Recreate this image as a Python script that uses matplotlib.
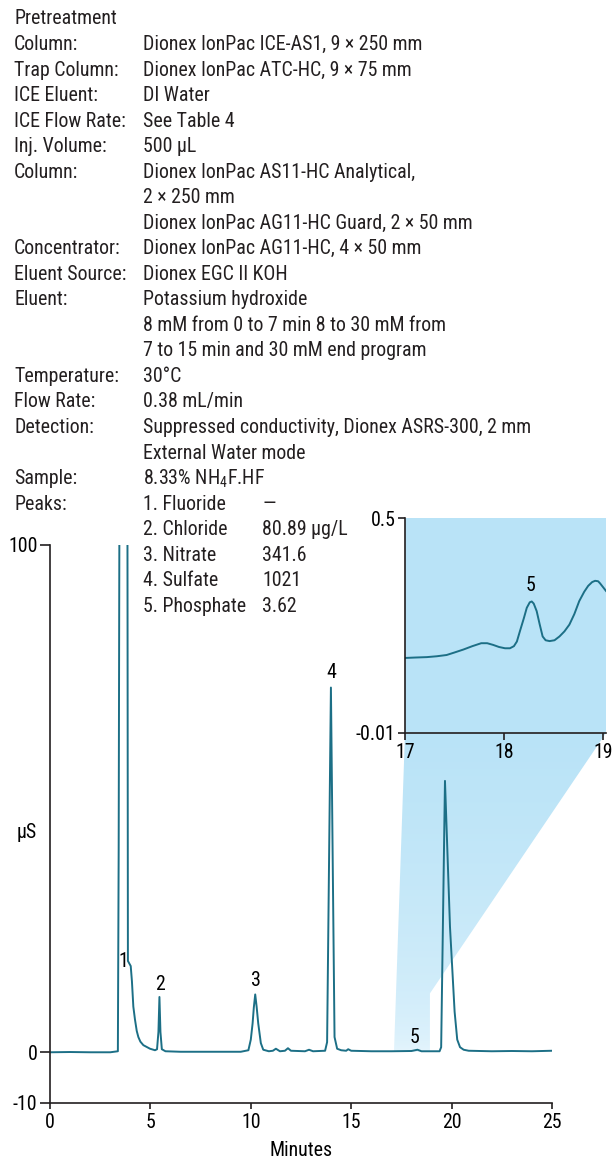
import matplotlib
matplotlib.use("Agg")
from matplotlib import pyplot as plt
from matplotlib import font_manager
from matplotlib.patches import Polygon
from matplotlib.colors import to_rgb
import numpy as np


def pick_font(names):
    for name in names:
        try:
            font_manager.findfont(name, fallback_to_default=False)
            return name
        except Exception:
            pass
    return "DejaVu Sans"


FONT = pick_font(["Liberation Sans Narrow", "Roboto Condensed", "Liberation Sans"])
plt.rcParams["font.family"] = [FONT, "DejaVu Sans"]
plt.rcParams["mathtext.fontset"] = "custom"
plt.rcParams["mathtext.rm"] = FONT
plt.rcParams["axes.unicode_minus"] = False

# chromatogram, minutes vs uS
time = [0, 1.0, 2.0, 3.0, 3.38, 3.42, 3.47, 3.85, 3.88, 4.02, 4.08, 4.15, 4.23, 4.32, 4.40,
        4.50, 4.65, 4.98, 5.23, 5.33, 5.40, 5.45, 5.50, 5.57, 5.75, 6.5, 8.0, 9.5, 9.88,
        10.0, 10.09, 10.15, 10.22, 10.29, 10.37, 10.5, 10.62, 10.9, 11.1, 11.25, 11.45, 11.7,
        11.85, 12.0, 12.7, 12.9, 13.1, 13.7, 13.8, 13.99, 14.17, 14.3, 14.5, 14.75, 14.85,
        15.0, 16.0, 17.0, 18.0, 18.3, 18.5, 19.0, 19.4, 19.48, 19.67, 19.92, 20.15, 20.28,
        20.42, 20.6, 20.85, 22.0, 23.0, 24.0, 25.0]
signal = [0.0, 0.05, 0.0, 0.0, 0.2, 40, 130, 130, 18, 17, 14, 9, 6.5, 4.2, 3.0,
          2.1, 1.4, 0.7, 0.4, 0.6, 4.0, 10.9, 4.0, 0.6, 0.2, 0.1, 0.1, 0.1, 0.4,
          2.5, 5.7, 8.8, 11.4, 9.0, 5.7, 1.8, 0.5, 0.2, 0.3, 0.7, 0.2, 0.3,
          0.8, 0.3, 0.2, 0.5, 0.2, 0.3, 2.0, 71.9, 3.0, 0.7, 0.4, 0.3, 0.6,
          0.3, 0.2, 0.2, 0.25, 0.5, 0.2, 0.2, 0.2, 1.0, 53.5, 24.7, 8.0, 2.5,
          1.0, 0.5, 0.3, 0.2, 0.25, 0.2, 0.3]

# zoomed section 17-19 min
zoom_time = [17.0, 17.1, 17.22, 17.32, 17.42, 17.5, 17.59, 17.68, 17.77, 17.83, 17.89, 17.95,
             18.01, 18.06, 18.1, 18.13, 18.16, 18.2, 18.23, 18.26, 18.28, 18.3, 18.33, 18.36,
             18.39, 18.42, 18.46, 18.51, 18.56, 18.61, 18.66, 18.71, 18.76, 18.81, 18.85,
             18.89, 18.92, 18.95, 18.97, 19.0, 19.03]
zoom_signal = [0.168, 0.169, 0.170, 0.172, 0.175, 0.181, 0.188, 0.196, 0.203, 0.203, 0.199, 0.194,
               0.191, 0.191, 0.196, 0.207, 0.231, 0.262, 0.287, 0.300, 0.302, 0.297, 0.279, 0.248,
               0.219, 0.210, 0.208, 0.210, 0.219, 0.231, 0.247, 0.272, 0.303, 0.325, 0.339,
               0.348, 0.351, 0.350, 0.345, 0.336, 0.327]

peak_labels = ["1", "2", "3", "4", "5"]
peak_label_x = [3.64, 5.48, 10.26, 13.99, 18.13]
peak_label_y = [17.8, 13.4, 14.2, 74.8, 2.9]

info_rows = [
    ("Pretreatment", "", ""),
    ("Column:", "Dionex IonPac ICE-AS1, 9 × 250 mm", ""),
    ("Trap Column:", "Dionex IonPac ATC-HC, 9 × 75 mm", ""),
    ("ICE Eluent:", "DI Water", ""),
    ("ICE Flow Rate:", "See Table 4", ""),
    ("Inj. Volume:", "500 µL", ""),
    ("Column:", "Dionex IonPac AS11-HC Analytical,", ""),
    ("", "2 × 250 mm", ""),
    ("", "Dionex IonPac AG11-HC Guard, 2 × 50 mm", ""),
    ("Concentrator:", "Dionex IonPac AG11-HC, 4 × 50 mm", ""),
    ("Eluent Source:", "Dionex EGC II KOH", ""),
    ("Eluent:", "Potassium hydroxide", ""),
    ("", "8 mM from 0 to 7 min 8 to 30 mM from", ""),
    ("", "7 to 15 min and 30 mM end program", ""),
    ("Temperature:", "30°C", ""),
    ("Flow Rate:", "0.38 mL/min", ""),
    ("Detection:", "Suppressed conductivity, Dionex ASRS-300, 2 mm", ""),
    ("", "External Water mode", ""),
    ("Sample:", "8.33% NH$_\\mathregular{4}$F.HF", ""),
    ("Peaks:", "1. Fluoride", "—"),
    ("", "2. Chloride", "80.89 µg/L"),
    ("", "3. Nitrate", "341.6"),
    ("", "4. Sulfate", "1021"),
    ("", "5. Phosphate", "3.62"),
]

W, H = 614, 1163
line_color = "#1c6f86"
ink = "#231f20"
sky = "#b9e3f7"
fs = 14.3

fig = plt.figure(figsize=(W / 100, H / 100), dpi=100)

bg = fig.add_axes([0, 0, 1, 1], zorder=0)
bg.set_xlim(0, W)
bg.set_ylim(0, H)
bg.axis("off")

ax = fig.add_axes([50 / W, 60 / H, 502 / W, 558 / H], zorder=1)
ax.patch.set_alpha(0)
ax.plot(time, signal, color=line_color, lw=1.4)
ax.set_xlim(0, 25)
ax.set_ylim(-10, 100)
ax.set_xticks([0, 5, 10, 15, 20, 25])
ax.set_yticks([-10, 0, 100])
for s in ["top", "right"]:
    ax.spines[s].set_visible(False)
for s in ["left", "bottom"]:
    ax.spines[s].set_color(ink)
    ax.spines[s].set_linewidth(1.2)
ax.tick_params(axis="y", length=7, width=1.2, color=ink, labelsize=fs, pad=2)
ax.tick_params(axis="x", length=4, width=1.2, color=ink, labelsize=fs, pad=3)
ax.set_xlabel("Minutes", fontsize=fs, labelpad=7)
ax.set_ylabel("µS", fontsize=fs, rotation=0, va="center", ha="center")
ax.yaxis.set_label_coords(-0.046, 0.484)
for lab, x, y in zip(peak_labels, peak_label_x, peak_label_y):
    ax.text(x, y, lab, fontsize=fs, ha="center", va="center")

ins = fig.add_axes([405 / W, 430 / H, 201 / W, 215 / H], zorder=2)
ins.set_facecolor(sky)
ins.plot(zoom_time, zoom_signal, color=line_color, lw=1.4)
ins.set_xlim(17, 19.03)
ins.set_ylim(-0.01, 0.5)
ins.set_xticks([17, 18, 19])
ins.set_yticks([-0.01, 0.5])
ins.set_yticklabels(["-0.01", "0.5"])
for s in ["top", "right"]:
    ins.spines[s].set_visible(False)
for s in ["left", "bottom"]:
    ins.spines[s].set_color(ink)
    ins.spines[s].set_linewidth(1.2)
ins.tick_params(length=5, width=1.2, color=ink, labelsize=fs, pad=2)
ins.text(18.27, 0.339, "5", fontsize=fs, ha="center", va="center")

# shaded wedge linking the zoom window to the inset
to_bg = bg.transData.inverted()
pts = [ax.transData.transform((17.13, 0)),
       ins.transAxes.transform((0, 0)),
       ins.transAxes.transform((1, 0)),
       ax.transData.transform((18.92, 11.6)),
       ax.transData.transform((18.92, 0))]
pts = to_bg.transform(np.array(pts))
wedge = Polygon(pts, closed=True, facecolor="none", edgecolor="none")
bg.add_patch(wedge)
top_c = np.array(to_rgb(sky))
bot_c = np.array(to_rgb("#e8f6fd"))
frac = np.linspace(0, 1, 256)[:, None] ** 0.45
grad = (bot_c * (1 - frac) + top_c * frac)[:, None, :]
img = bg.imshow(grad, extent=[pts[:, 0].min(), pts[:, 0].max(), pts[:, 1].min(), pts[:, 1].max()],
                origin="lower", aspect="auto", interpolation="bilinear")
img.set_clip_path(wedge)

# method text block
row_h = 25.53
for i, (label, value, conc) in enumerate(info_rows):
    y = 1 - (19 + i * row_h) / H
    if label:
        fig.text(14 / W, y, label, fontsize=fs, va="center", ha="left", color=ink)
    if value:
        fig.text(143 / W, y, value, fontsize=fs, va="center", ha="left", color=ink)
    if conc:
        fig.text(262 / W, y, conc, fontsize=fs, va="center", ha="left", color=ink)

fig.savefig("out.png", dpi=100)
